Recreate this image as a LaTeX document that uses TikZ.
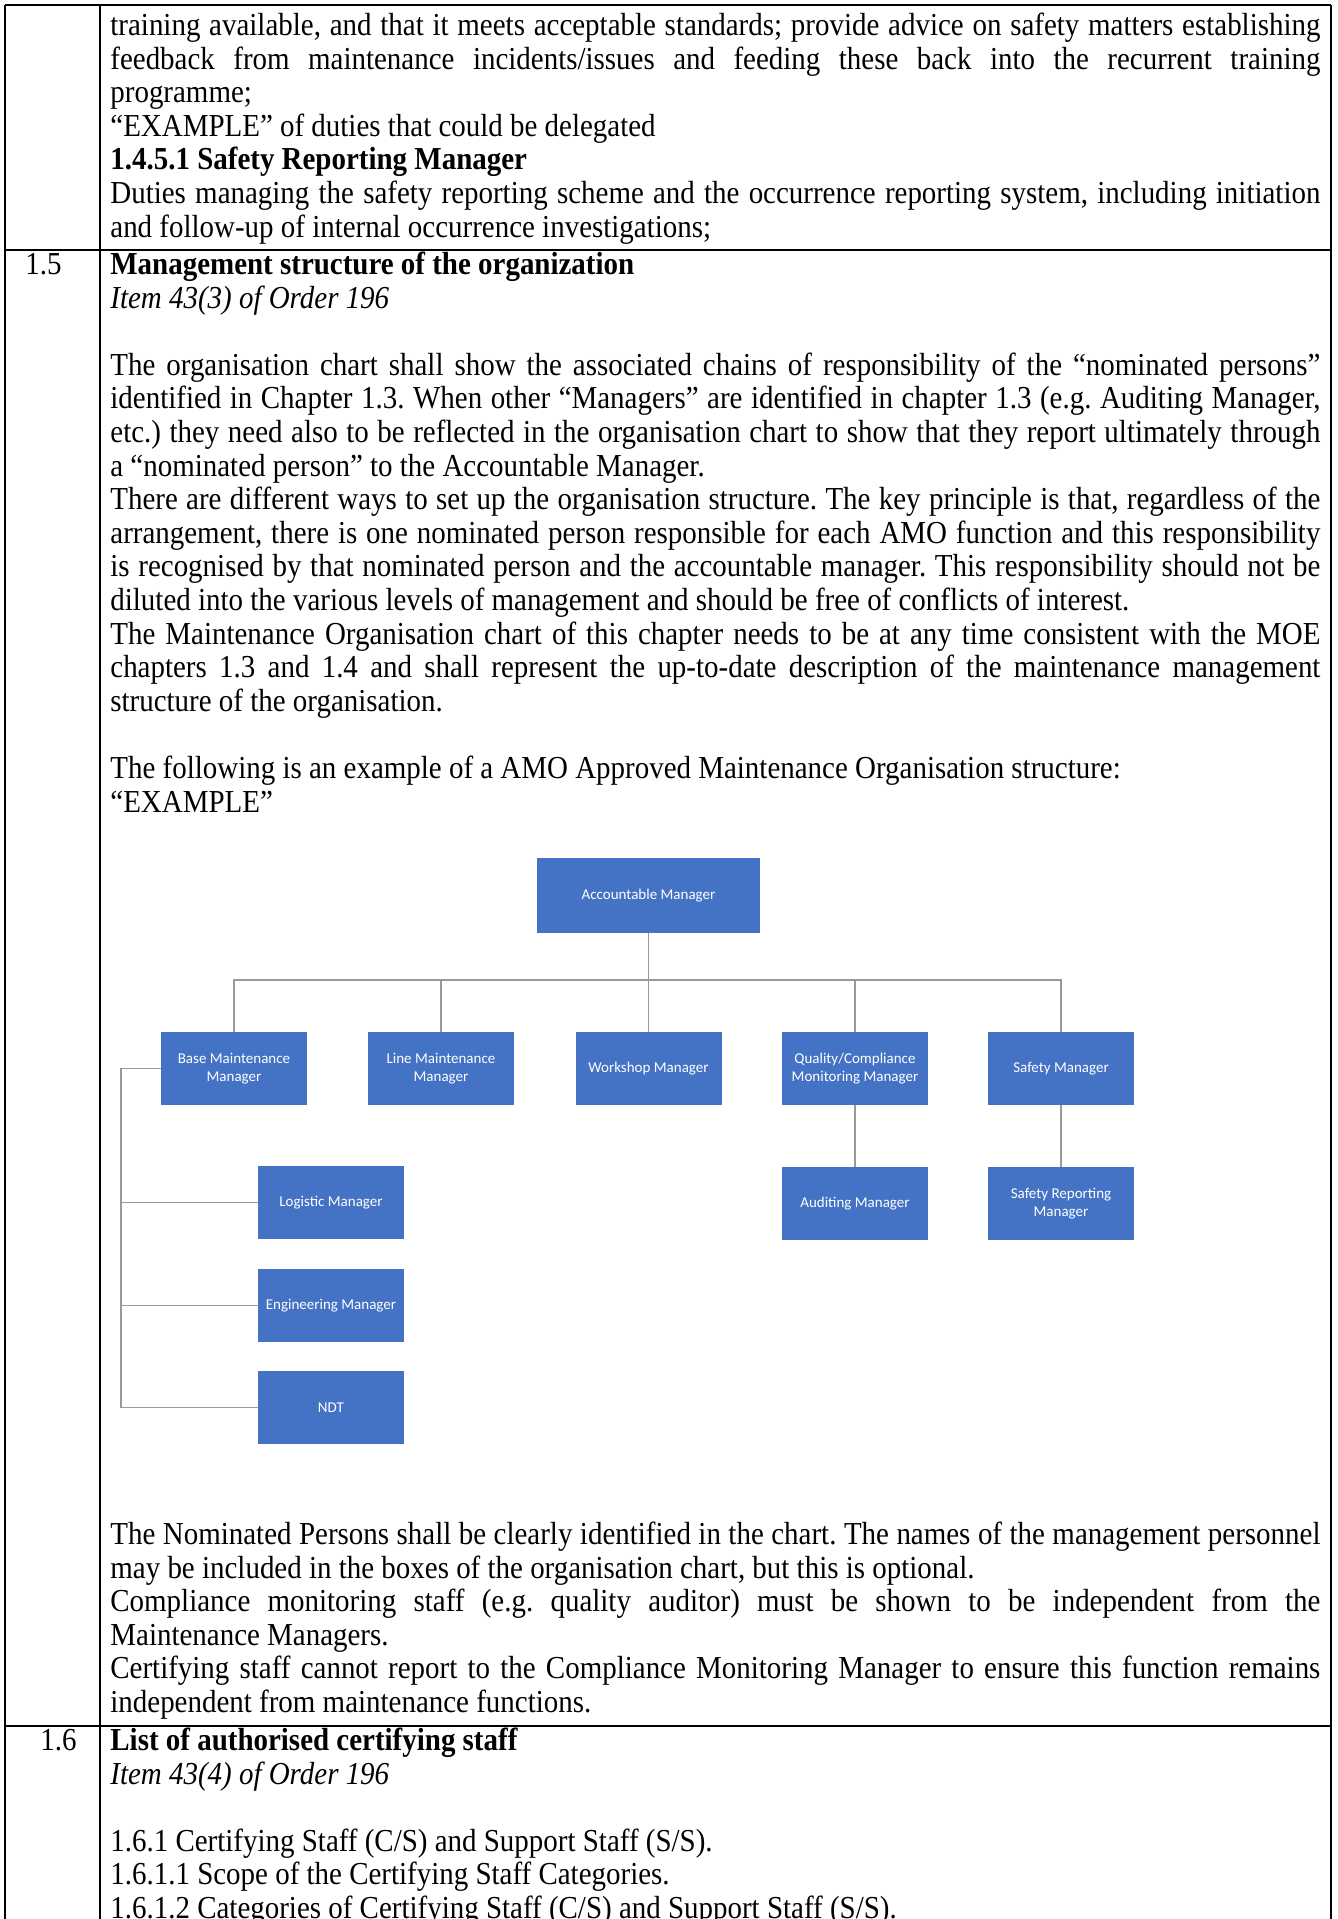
\documentclass[tikz,border=0pt]{standalone}
\usepackage{fontspec}
\setmainfont{Liberation Serif}[FakeStretch=0.905]
\newfontfamily\chartfont{Carlito}
\definecolor{chartBlue}{HTML}{4472C4}
\definecolor{linkGray}{HTML}{9A9A9A}
\newcommand{\fl}{\rule{0pt}{12pt}}
\setlength{\parindent}{0pt}

\begin{document}
\begin{tikzpicture}[x=0.5pt, y=-0.5pt]
  \tikzstyle{txt}=[anchor=north west, inner sep=0pt, text width=605pt, align=justify, font=\fontsize{16}{16.8}\selectfont\frenchspacing]
  \tikzstyle{num}=[anchor=base west, inner sep=0pt, font=\fontsize{16}{16.8}\selectfont]
  \tikzstyle{tabline}=[line width=1.25pt, black]
  \tikzstyle{box}=[rectangle, fill=chartBlue, text=white, minimum width=73pt, minimum height=36.5pt, inner sep=1pt, align=center, font=\chartfont\fontsize{7.5}{9}\selectfont]
  \tikzstyle{link}=[linkGray, line width=0.75pt]

  \fill[white] (0,0) rectangle (1338,1919);
  \useasboundingbox (0,0) rectangle (1338,1919);

  % table frame
  \draw[tabline] (5,5) -- (1331,5);
  \draw[tabline] (5,250) -- (1331,250);
  \draw[tabline] (5,1726) -- (1331,1726);
  \draw[tabline] (5,5) -- (5,1919);
  \draw[tabline] (100,5) -- (100,1919);
  \draw[tabline] (1331,5) -- (1331,1919);

  \node[num] at (25,274) (secA) {1.5};
  \node[num] at (40,1750) (secB) {1.6};

  \node[txt] at (110,11) (dutyTxt) {\fl training available, and that it meets acceptable standards; provide advice on safety matters establishing\linebreak
    feedback from maintenance incidents/issues and feeding these back into the recurrent training\linebreak
    programme;\par
    “EXAMPLE” of duties that could be delegated\par
    \textbf{1.4.5.1 Safety Reporting Manager}\par
    Duties managing the safety reporting scheme and the occurrence reporting system, including initiation\linebreak
    and follow-up of internal occurrence investigations;\par};

  \node[txt] at (110,250) (structTxt) {\fl\textbf{Management structure of the organization}\par
    \textit{Item 43(3) of Order 196}\par
    \mbox{}\par
    The organisation chart shall show the associated chains of responsibility of the “nominated persons”\linebreak
    identified in Chapter 1.3. When other “Managers” are identified in chapter 1.3 (e.g. Auditing Manager,\linebreak
    etc.) they need also to be reflected in the organisation chart to show that they report ultimately through\linebreak
    a “nominated person” to the Accountable Manager.\par
    There are different ways to set up the organisation structure. The key principle is that, regardless of the\linebreak
    arrangement, there is one nominated person responsible for each AMO function and this responsibility\linebreak
    is recognised by that nominated person and the accountable manager. This responsibility should not be\linebreak
    diluted into the various levels of management and should be free of conflicts of interest.\par
    The Maintenance Organisation chart of this chapter needs to be at any time consistent with the MOE\linebreak
    chapters 1.3 and 1.4 and shall represent the up-to-date description of the maintenance management\linebreak
    structure of the organisation.\par
    \mbox{}\par
    The following is an example of a AMO Approved Maintenance Organisation structure:\par
    “EXAMPLE”\par};

  % organisation chart
  \node[box, minimum width=111.5pt, minimum height=37.5pt] at (648.5,895.5) (acc) {Accountable Manager};
  \node[box] at (234,1068.5) (baseMgr) {Base Maintenance\\Manager};
  \node[box] at (441,1068.5) (lineMgr) {Line Maintenance\\Manager};
  \node[box] at (648.5,1068.5) (shopMgr) {Workshop Manager};
  \node[box] at (855,1068.5) (qualMgr) {Quality/Compliance\\Monitoring Manager};
  \node[box] at (1061,1068.5) (safeMgr) {Safety Manager};
  \node[box] at (855,1203.5) (audMgr) {Auditing Manager};
  \node[box] at (1061,1203.5) (srepMgr) {Safety Reporting\\Manager};
  \node[box] at (331,1202.5) (logMgr) {Logistic Manager};
  \node[box] at (331,1305.5) (engMgr) {Engineering Manager};
  \node[box] at (331,1407.5) (ndt) {NDT};

  \coordinate (bus) at (648.5,980);
  \coordinate (spine) at (121,1068.5);

  \draw[link] (acc.south) -- (shopMgr.north);
  \draw[link] (baseMgr.north) |- (safeMgr.north |- bus) -- (safeMgr.north);
  \draw[link] (lineMgr.north) -- (lineMgr.north |- bus);
  \draw[link] (qualMgr.north) -- (qualMgr.north |- bus);
  \draw[link] (qualMgr.south) -- (audMgr.north);
  \draw[link] (safeMgr.south) -- (srepMgr.north);
  \draw[link] (baseMgr.west) -- (spine) |- (ndt.west);
  \draw[link] (spine |- logMgr.west) -- (logMgr.west);
  \draw[link] (spine |- engMgr.west) -- (engMgr.west);

  \node[txt] at (110,1520) (noteTxt) {\fl The Nominated Persons shall be clearly identified in the chart. The names of the management personnel\linebreak
    may be included in the boxes of the organisation chart, but this is optional.\par
    Compliance monitoring staff (e.g. quality auditor) must be shown to be independent from the\linebreak
    Maintenance Managers.\par
    Certifying staff cannot report to the Compliance Monitoring Manager to ensure this function remains\linebreak
    independent from maintenance functions.\par};

  \node[txt] at (110,1726) (staffTxt) {\fl\textbf{List of authorised certifying staff}\par
    \textit{Item 43(4) of Order 196}\par
    \mbox{}\par
    1.6.1 Certifying Staff (C/S) and Support Staff (S/S).\par
    1.6.1.1 Scope of the Certifying Staff Categories.\par
    1.6.1.2 Categories of Certifying Staff (C/S) and Support Staff (S/S).\par};
\end{tikzpicture}
\end{document}
